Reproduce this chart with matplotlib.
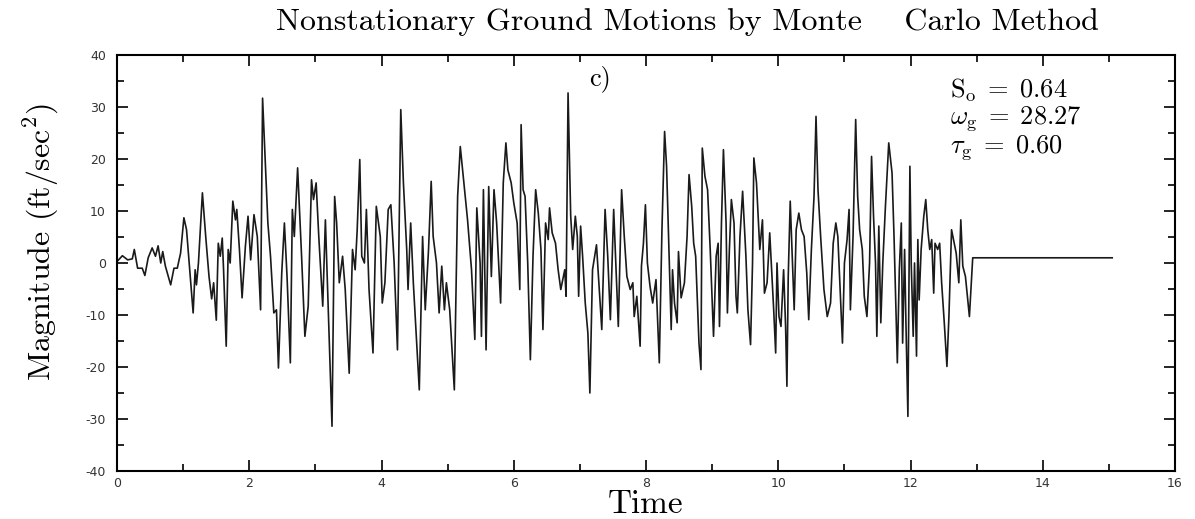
import matplotlib
matplotlib.use("Agg")
import matplotlib.pyplot as plt
from matplotlib.ticker import MultipleLocator

plt.rcParams['mathtext.fontset'] = 'cm'
plt.rcParams['axes.unicode_minus'] = False

# turning points (time in s, magnitude in ft/sec^2)
times = [0.00, 0.08, 0.16, 0.23, 0.26, 0.31, 0.38, 0.42, 0.47, 0.53, 0.58, 0.62, 0.66, 0.69, 0.73,
         0.81, 0.86, 0.91, 0.96, 1.01, 1.05, 1.09, 1.15, 1.18, 1.20, 1.23, 1.29, 1.34, 1.39, 1.43,
         1.46, 1.50, 1.53, 1.56, 1.59, 1.61, 1.65, 1.68, 1.71, 1.75, 1.79, 1.81, 1.85, 1.89, 1.94,
         1.98, 2.02, 2.07, 2.12, 2.17, 2.20, 2.24, 2.28, 2.32, 2.37, 2.41, 2.44, 2.49, 2.53, 2.57,
         2.62, 2.65, 2.68, 2.73, 2.79, 2.84, 2.89, 2.94, 2.97, 3.01, 3.05, 3.11, 3.15, 3.19, 3.25,
         3.29, 3.32, 3.36, 3.41, 3.45, 3.51, 3.56, 3.60, 3.63, 3.67, 3.70, 3.74, 3.77, 3.81, 3.87,
         3.92, 3.98, 4.01, 4.05, 4.10, 4.14, 4.19, 4.24, 4.29, 4.33, 4.38, 4.40, 4.44, 4.48, 4.53,
         4.57, 4.62, 4.66, 4.71, 4.75, 4.78, 4.83, 4.87, 4.91, 4.95, 4.98, 5.03, 5.10, 5.15, 5.19,
         5.23, 5.30, 5.36, 5.41, 5.44, 5.49, 5.51, 5.54, 5.58, 5.62, 5.66, 5.70, 5.74, 5.80, 5.84,
         5.88, 5.91, 5.96, 6.00, 6.05, 6.09, 6.11, 6.14, 6.17, 6.21, 6.25, 6.29, 6.33, 6.37, 6.41,
         6.44, 6.48, 6.52, 6.54, 6.58, 6.63, 6.67, 6.71, 6.74, 6.77, 6.79, 6.82, 6.86, 6.89, 6.93,
         6.96, 6.98, 7.01, 7.04, 7.08, 7.12, 7.15, 7.19, 7.25, 7.28, 7.33, 7.38, 7.42, 7.46, 7.51,
         7.55, 7.58, 7.63, 7.67, 7.71, 7.76, 7.80, 7.82, 7.86, 7.91, 7.93, 7.96, 7.99, 8.02, 8.06,
         8.10, 8.15, 8.20, 8.24, 8.28, 8.31, 8.35, 8.38, 8.40, 8.43, 8.47, 8.49, 8.53, 8.58, 8.62,
         8.65, 8.69, 8.72, 8.75, 8.80, 8.83, 8.85, 8.89, 8.93, 8.97, 9.02, 9.06, 9.09, 9.11, 9.14,
         9.17, 9.21, 9.23, 9.26, 9.29, 9.33, 9.36, 9.38, 9.42, 9.46, 9.51, 9.54, 9.58, 9.61, 9.63,
         9.67, 9.72, 9.76, 9.79, 9.83, 9.87, 9.91, 9.93, 9.96, 9.98, 10.01, 10.04, 10.08, 10.11, 10.13,
         10.15, 10.18, 10.20, 10.24, 10.27, 10.31, 10.35, 10.39, 10.43, 10.46, 10.50, 10.54, 10.57, 10.60, 10.64,
         10.69, 10.74, 10.79, 10.83, 10.87, 10.90, 10.97, 11.00, 11.04, 11.07, 11.09, 11.13, 11.17, 11.20, 11.23,
         11.27, 11.30, 11.34, 11.38, 11.41, 11.44, 11.47, 11.49, 11.52, 11.55, 11.58, 11.62, 11.67, 11.72, 11.75,
         11.80, 11.83, 11.86, 11.88, 11.91, 11.93, 11.96, 11.99, 12.01, 12.04, 12.06, 12.09, 12.11, 12.13, 12.16,
         12.20, 12.23, 12.26, 12.29, 12.32, 12.35, 12.37, 12.41, 12.44, 12.47, 12.51, 12.55, 12.58, 12.62, 12.66,
         12.69, 12.73, 12.76, 12.79, 12.83, 12.86, 12.89, 12.94, 15.05]
magnitude = [0.3, 1.4, 0.6, 0.8, 2.6, -1.0, -1.0, -2.4, 1.0, 2.9, 1.3, 3.3, 0.0, 2.2, -0.6,
             -4.2, -1.0, -1.0, 1.9, 8.7, 6.4, 0.0, -9.6, -1.3, -4.2, 0.0, 13.5, 5.1, -2.6, -6.9,
             -3.8, -11.0, 3.8, 1.3, 4.8, -1.3, -16.0, 2.6, 0.0, 11.9, 8.3, 10.3, 2.6, -6.7, 3.2,
             9.0, 0.6, 9.3, 5.1, -9.0, 31.7, 19.9, 7.7, 1.3, -9.6, -9.0, -20.2, -1.9, 7.7, -2.6,
             -19.2, 10.3, 5.1, 18.3, 1.3, -14.1, -8.3, 16.0, 12.2, 15.4, 5.1, -8.3, 8.3, -7.7, -31.4,
             12.8, 7.7, -3.8, 1.3, -5.1, -21.2, 2.6, -1.3, 6.1, 19.9, 1.3, 0.0, 10.3, -5.1, -17.3,
             10.9, 5.1, -7.7, -3.8, 10.3, 11.2, 0.0, -16.7, 29.5, 15.4, 2.6, -5.1, 7.7, -3.8, -15.4,
             -24.4, 5.1, -9.0, 2.6, 15.7, 5.1, 0.0, -9.6, -0.6, -9.0, -3.8, -9.0, -24.4, 12.8, 22.4,
             17.3, 8.3, -1.3, -14.7, 10.6, 0.0, -14.1, 14.1, -16.7, 14.7, -2.6, 14.1, 7.7, -7.7, 15.4,
             23.1, 17.9, 15.4, 11.5, 7.7, -5.1, 26.6, 14.1, 12.8, 0.0, -18.6, 1.3, 14.1, 9.6, 2.6,
             -12.8, 7.7, 4.5, 10.6, 5.8, 3.8, -1.3, -5.1, -3.2, -1.3, -6.4, 32.7, 9.0, 2.6, 9.0,
             5.1, -6.4, 7.1, 1.3, -7.7, -13.5, -25.0, -1.3, 3.5, -2.6, -12.8, 10.3, 1.3, -10.9, 10.3,
             -2.6, -12.2, 14.1, 5.1, -2.6, -5.1, -3.8, -10.3, -6.4, -16.0, -0.6, 3.8, 11.2, 0.0, -4.5,
             -7.7, -3.2, -19.2, 6.4, 25.3, 18.6, 0.6, -12.8, -1.3, -7.7, -11.5, 2.2, -6.7, -3.8, 5.1,
             17.0, 10.9, 3.8, 1.3, -15.4, -20.5, 22.1, 16.7, 14.1, 2.6, -14.1, 1.3, 3.8, -12.2, 7.7,
             21.8, 7.7, -9.6, 2.6, 12.2, 7.7, -6.4, -9.6, 5.1, 13.8, 1.3, -9.0, -15.7, 0.0, 20.2,
             15.4, 2.6, 8.3, -5.8, -3.8, 5.8, -3.8, -9.0, -17.3, 0.0, -10.3, -12.2, -1.3, -12.2, -23.7,
             -2.6, 11.9, 5.1, -9.0, 6.4, 9.6, 6.4, 5.1, -1.9, -10.9, 2.6, 12.8, 28.2, 14.1, 5.1,
             -5.1, -10.3, -7.7, 3.8, 7.7, 5.1, -15.4, 0.0, 4.5, 10.3, -9.0, 5.1, 27.6, 12.8, 6.4,
             2.6, -6.4, -10.3, 0.0, 20.5, 9.0, 0.0, -14.1, 7.1, -11.5, 0.0, 10.9, 23.1, 17.3, 5.1,
             -19.2, -1.3, 7.7, -15.4, 2.6, -11.5, -29.5, 18.6, 0.0, -14.1, 0.0, -17.9, 4.5, -7.1, 2.6,
             9.0, 12.2, 6.4, 2.6, 4.5, -5.8, 3.8, 2.6, 3.8, -3.8, -11.5, -19.9, -10.3, 6.4, 3.8,
             1.9, -3.8, 8.3, -0.6, -2.6, -6.4, -10.3, 1.0, 1.0]

fig = plt.figure(figsize=(11.95, 5.19), dpi=100)
ax = fig.add_axes([0.098, 0.0925, 0.8853, 0.8015])

ax.plot(times, magnitude, color='#1a1a1a', linewidth=1.2)

ax.set_xlim(0, 16)
ax.set_ylim(-40, 40)
ax.xaxis.set_major_locator(MultipleLocator(2))
ax.xaxis.set_minor_locator(MultipleLocator(1))
ax.yaxis.set_major_locator(MultipleLocator(10))
ax.yaxis.set_minor_locator(MultipleLocator(5))
ax.tick_params(which='both', direction='in', top=True, right=True,
               labelsize=9, labelcolor='#333333', width=1.2)
ax.tick_params(axis='y', pad=8)
ax.tick_params(axis='x', pad=4)
ax.tick_params(which='major', length=8)
ax.tick_params(which='minor', length=5)
for s in ax.spines.values():
    s.set_linewidth(1.5)

ax.set_title('Nonstationary Ground Motions by Monte    Carlo Method',
             fontfamily='cmr10', fontsize=23, pad=18, x=0.539)
ax.set_xlabel('Time', fontfamily='cmr10', fontsize=24, labelpad=0)
ax.set_ylabel(r'Magnitude (ft/sec$^2$)', fontfamily='cmr10', fontsize=23,
              labelpad=18, y=0.55)

ax.text(7.3, 35.5, 'c)', fontfamily='cmr10', fontsize=19, ha='center', va='center')
ax.text(12.6, 33.3, r'$\mathrm{S_o}\;=\;0.64$', fontsize=19, va='center')
ax.text(12.6, 27.8, r'$\omega_\mathrm{g}\;=\;28.27$', fontsize=19, va='center')
ax.text(12.6, 22.3, r'$\tau_\mathrm{g}\;=\;0.60$', fontsize=19, va='center')

fig.savefig('out.png', dpi=100)
